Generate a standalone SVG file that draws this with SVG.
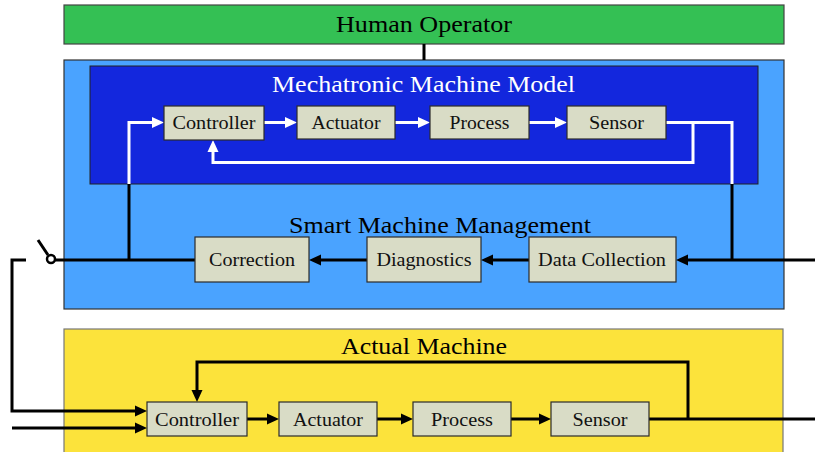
<svg xmlns="http://www.w3.org/2000/svg" width="815" height="452" viewBox="0 0 815 452">
<style>
.blk{fill:#d9dcc6;stroke:#2b2b2b;stroke-width:1.2}
.bt{font-family:"Liberation Serif","Times New Roman",serif;font-size:19px;fill:#111;text-anchor:middle}
.tt{font-family:"Liberation Serif","Times New Roman",serif;font-size:24px;text-anchor:middle}
.k{fill:none;stroke:#000;stroke-width:3}
.w{fill:none;stroke:#fff;stroke-width:3}
</style>
<defs>
<marker id="ak" markerUnits="userSpaceOnUse" markerWidth="12" markerHeight="12" viewBox="0 0 12 12" refX="0" refY="6" orient="auto"><path d="M0,0.5 L12,6 L0,11.5 Z" fill="#000"/></marker>
<marker id="aw" markerUnits="userSpaceOnUse" markerWidth="12" markerHeight="12" viewBox="0 0 12 12" refX="0" refY="6" orient="auto"><path d="M0,0.5 L12,6 L0,11.5 Z" fill="#fff"/></marker>
</defs>

<g id="human-operator">
<rect x="64" y="5" width="720" height="39" fill="#34c054" stroke="#444" stroke-width="1.2"/>
<text class="tt" x="424" y="31.5" textLength="176" lengthAdjust="spacingAndGlyphs" fill="#000">Human Operator</text>
</g>

<g id="smart-machine-management">
<rect x="64" y="60" width="720" height="249" fill="#4aa3ff" stroke="#333" stroke-width="1.2"/>
<text class="tt" x="440" y="233" textLength="302" lengthAdjust="spacingAndGlyphs" fill="#000">Smart Machine Management</text>
</g>

<g id="mechatronic-machine-model">
<rect x="90" y="66" width="668" height="118" fill="#1327dd" stroke="#222" stroke-width="1"/>
<text class="tt" x="423.5" y="92" textLength="303" lengthAdjust="spacingAndGlyphs" fill="#fff">Mechatronic Machine Model</text>
</g>

<g id="actual-machine">
<rect x="64" y="329" width="719" height="130" fill="#fce33b" stroke="#777" stroke-width="1.2"/>
<text class="tt" x="424" y="353.5" textLength="166" lengthAdjust="spacingAndGlyphs" fill="#000">Actual Machine</text>
</g>

<g id="connectors">
<line class="k" x1="424" y1="44" x2="424" y2="60"/>
<path class="w" d="M129,184 V122.5 H152" marker-end="url(#aw)"/>
<path class="w" d="M264,122.5 H285" marker-end="url(#aw)"/>
<path class="w" d="M395,122.5 H418" marker-end="url(#aw)"/>
<path class="w" d="M529,122.5 H555" marker-end="url(#aw)"/>
<path class="w" d="M666,122.5 H732 V184"/>
<path class="w" d="M693,122.5 V162.5 H213 V152" marker-end="url(#aw)"/>
<line class="k" x1="129" y1="184" x2="129" y2="260"/>
<line class="k" x1="732" y1="184" x2="732" y2="260"/>
<path class="k" d="M815,260 H688" marker-end="url(#ak)"/>
<path class="k" d="M529,260 H493" marker-end="url(#ak)"/>
<path class="k" d="M367,260 H321" marker-end="url(#ak)"/>
<path class="k" d="M195,260 H55"/>
<line class="k" x1="38" y1="240" x2="48" y2="255"/>
<circle cx="51" cy="259" r="4" fill="#fff" stroke="#000" stroke-width="2.5"/>
<path class="k" d="M26,260 H12 V411 H135" marker-end="url(#ak)"/>
<path class="k" d="M12,428 H135" marker-end="url(#ak)"/>
<path class="k" d="M247,419 H267" marker-end="url(#ak)"/>
<path class="k" d="M377,419 H401" marker-end="url(#ak)"/>
<path class="k" d="M511,419 H539" marker-end="url(#ak)"/>
<path class="k" d="M649,419 H815"/>
<path class="k" d="M688,419 V362 H197 V390" marker-end="url(#ak)"/>
</g>

<g id="m-controller"><rect class="blk" x="164" y="106" width="100" height="34"/><text class="bt" x="214" y="128.5" textLength="83" lengthAdjust="spacingAndGlyphs">Controller</text></g>
<g id="m-actuator"><rect class="blk" x="297" y="106" width="98" height="33"/><text class="bt" x="346" y="128.5" textLength="69" lengthAdjust="spacingAndGlyphs">Actuator</text></g>
<g id="m-process"><rect class="blk" x="430" y="106" width="99" height="33"/><text class="bt" x="479.5" y="128.5" textLength="60" lengthAdjust="spacingAndGlyphs">Process</text></g>
<g id="m-sensor"><rect class="blk" x="567" y="106" width="99" height="33"/><text class="bt" x="616.5" y="128.5" textLength="55" lengthAdjust="spacingAndGlyphs">Sensor</text></g>

<g id="correction"><rect class="blk" x="195" y="237" width="114" height="45"/><text class="bt" x="252" y="265.5" textLength="86" lengthAdjust="spacingAndGlyphs">Correction</text></g>
<g id="diagnostics"><rect class="blk" x="367" y="237" width="114" height="45"/><text class="bt" x="424" y="265.5" textLength="95" lengthAdjust="spacingAndGlyphs">Diagnostics</text></g>
<g id="data-collection"><rect class="blk" x="529" y="237" width="147" height="45"/><text class="bt" x="602" y="265.5" textLength="128" lengthAdjust="spacingAndGlyphs">Data Collection</text></g>

<g id="a-controller"><rect class="blk" x="147" y="402" width="100" height="34"/><text class="bt" x="197" y="425.5" textLength="84" lengthAdjust="spacingAndGlyphs">Controller</text></g>
<g id="a-actuator"><rect class="blk" x="279" y="402" width="98" height="34"/><text class="bt" x="328" y="425.5" textLength="70" lengthAdjust="spacingAndGlyphs">Actuator</text></g>
<g id="a-process"><rect class="blk" x="413" y="402" width="98" height="34"/><text class="bt" x="462" y="425.5" textLength="62" lengthAdjust="spacingAndGlyphs">Process</text></g>
<g id="a-sensor"><rect class="blk" x="551" y="402" width="98" height="34"/><text class="bt" x="600" y="425.5" textLength="55" lengthAdjust="spacingAndGlyphs">Sensor</text></g>
</svg>
